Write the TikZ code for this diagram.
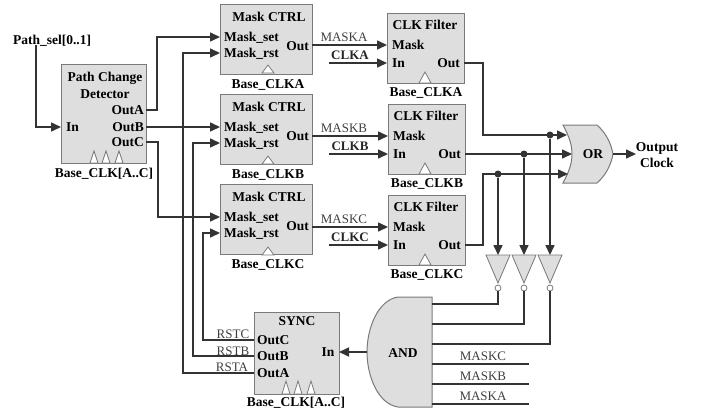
\documentclass[tikz,border=0pt]{standalone}
\usepackage{fontspec}
\setmainfont{Liberation Serif}
\usetikzlibrary{arrows.meta}
\definecolor{boxfill}{HTML}{DEDEDE}
\definecolor{boxline}{HTML}{7A7A7A}
\definecolor{wirecol}{HTML}{333333}
\tikzset{
  block/.style={draw=boxline,fill=boxfill,line width=1pt,anchor=north west,inner sep=0pt,outer sep=0pt},
  port/.style={font=\fontsize{13.5}{15}\selectfont\bfseries,inner sep=0pt,text height=9pt,text depth=0pt},
  sig/.style={font=\fontsize{13}{15}\selectfont,inner sep=0pt,text=black!75},
  clksig/.style={font=\fontsize{13}{15}\selectfont\bfseries,inner sep=0pt,text=black!85},
  wire/.style={draw=wirecol,line width=1.6pt},
  arrowwire/.style={wire,-{Triangle[length=10pt,width=9pt]}},
  thinwire/.style={draw=wirecol,line width=1.3pt},
  clktri/.style={draw=boxline,fill=white,line width=0.8pt},
  gate/.style={draw=boxline,fill=boxfill,line width=1pt},
  dot/.style={circle,fill=wirecol,inner sep=0pt,minimum size=7pt}
}
\begin{document}
\begin{tikzpicture}[x=1pt,y=-1pt]
  \useasboundingbox (0,0) rectangle (705,413);

  % Path change detector
  \node[block,minimum width=85pt,minimum height=99pt] (det) at (61,64) {};
  \node[port] (detname) at (105,77) {Path Change};
  \node[port] (detname2) at (105,94) {Detector};
  \node[port,anchor=west] (detin) at (66,127) {In};
  \node[port,anchor=east] (detA) at (144,110) {OutA};
  \node[port,anchor=east] (detB) at (144,127) {OutB};
  \node[port,anchor=east] (detC) at (144,142) {OutC};
  \node[port] (detclk) at (104,173) {Base\_CLK[A..C]};
  \node[port] (pathsel) at (52,40) {Path\_sel[0..1]};

  % Mask CTRL
  \foreach \n/\y in {A/4,B/94,C/184}{
    \node[block,minimum width=92pt,minimum height=70pt] (ctrl\n) at (220,\y) {};
    \node[port] (ctrl\n name) at (269,\y+13) {Mask CTRL};
    \node[port,anchor=west] (set\n) at (224,\y+33) {Mask\_set};
    \node[port,anchor=west] (rst\n) at (224,\y+49) {Mask\_rst};
    \node[port,anchor=east] (ctrl\n out) at (309,\y+42) {Out};
    \node[port] (ctrl\n clk) at (268,\y+80) {Base\_CLK\n};
  }

  % CLK Filter
  \foreach \n/\x/\y in {A/387/13,B/388/104,C/388/195}{
    \node[block,minimum width=77pt,minimum height=70pt] (filt\n) at (\x,\y) {};
    \node[port] (filt\n name) at (\x+38,\y+12) {CLK Filter};
    \node[port,anchor=west] (filt\n mask) at (\x+5,\y+32) {Mask};
    \node[port,anchor=west] (filt\n in) at (\x+5,\y+50) {In};
    \node[port,anchor=east] (filt\n out) at (\x+73,\y+50) {Out};
    \node[port] (filt\n clk) at (\x+39,\y+79) {Base\_CLK\n};
  }

  % SYNC
  \node[block,minimum width=85pt,minimum height=82pt] (sync) at (254,312) {};
  \node[port] (syncname) at (297,321) {SYNC};
  \node[port,anchor=west] (syncC) at (257,340) {OutC};
  \node[port,anchor=west] (syncB) at (257,356) {OutB};
  \node[port,anchor=west] (syncA) at (257,373) {OutA};
  \node[port] (syncin) at (328,352) {In};
  \node[port] (syncclk) at (296,402) {Base\_CLK[A..C]};

  % Triangulos de reloj
  \foreach \x/\y/\w/\h in {94/163/4/12,106/163/4/12,119/163/4/12,
                           286/394/4/13,298/394/4/13,311/394/4/13,
                           268/73/6/8,268/164/6/8,268/255/6/8,
                           425/83/6/11,425/174/6/11,425/265/6/11}
    \draw[clktri] (\x-\w,\y) -- (\x,\y-\h) -- (\x+\w,\y) -- cycle;

  % OR
  \draw[gate] (563,125) -- (597,125) .. controls (606,133) and (611,143) .. (613,154)
    .. controls (611,165) and (606,175) .. (597,183) -- (563,183)
    .. controls (570,170) and (572,162) .. (572,154)
    .. controls (572,146) and (570,138) .. (563,125) -- cycle;
  \node[port] (or) at (593,154) {OR};
  \coordinate (orA) at (567,135);
  \coordinate (orB) at (572,154);
  \coordinate (orC) at (568,174);
  \coordinate (orout) at (613,154);
  \node[port] (clkout) at (657,147) {Output};
  \node[port] (clkout2) at (657,163) {Clock};
  \coordinate (outend) at (636,154);

  % AND
  \draw[gate] (432,297) -- (398,297) .. controls (378,300) and (367,328) .. (367,352)
    .. controls (367,376) and (378,404) .. (398,407) -- (432,407) -- cycle;
  \node[port] (and) at (403,353) {AND};
  \coordinate (andout) at (367,352);

  % Inversores
  \foreach \n/\x in {C/498,B/524,A/550}{
    \draw[gate,line width=0.8pt] (\x-12,255) -- (\x+12,255) -- (\x,283) -- cycle;
    \node[draw=boxline,fill=white,circle,line width=0.8pt,inner sep=0pt,minimum size=6pt] (bub\n) at (\x,288) {};
    \coordinate (inv\n) at (\x,255);
  }

  % Entrada y salidas del detector
  \draw[arrowwire] (pathsel.south -| 36,0) |- (det.west |- detin);
  \draw[arrowwire] (detA -| det.east) -- ++(11,0) |- (setA -| ctrlA.west);
  \draw[arrowwire] (detB -| det.east) -- (setB -| ctrlB.west);
  \draw[arrowwire] (detC -| det.east) -- ++(12,0) |- (setC -| ctrlC.west);

  % Resets desde SYNC
  \draw[arrowwire] (syncA -| sync.west) -- ++(-71,0) |- (rstA -| ctrlA.west);
  \draw[arrowwire] (syncB -| sync.west) -- ++(-61,0) |- (rstB -| ctrlB.west);
  \draw[arrowwire] (syncC -| sync.west) -- ++(-51,0) |- (rstC -| ctrlC.west);
  \node[sig] (rstClab) at (233,334) {RSTC};
  \node[sig] (rstBlab) at (233,351) {RSTB};
  \node[sig] (rstAlab) at (232,367) {RSTA};

  % Mask y CLK hacia los filtros
  \foreach \n in {A,B,C}{
    \draw[arrowwire] (filt\n mask -| ctrl\n.east) -- (filt\n mask -| filt\n.west);
    \node[sig] (mask\n lab) at (344,0 |- filt\n mask) [yshift=8pt] {MASK\n};
    \node[clksig] (clk\n lab) at (350,0 |- filt\n in) [yshift=8pt] {CLK\n};
    \coordinate (clk\n start) at (329,0 |- filt\n in);
    \draw[arrowwire] (clk\n start) -- (filt\n in -| filt\n.west);
  }

  % Salidas de los filtros hacia OR
  \node[dot] (dotA) at (550,135) {};
  \node[dot] (dotB) at (524,154) {};
  \node[dot] (dotC) at (498,174) {};
  \draw[arrowwire] (filtAout -| filtA.east) -- ++(19,0) |- (orA);
  \draw[arrowwire] (filtBout -| filtB.east) -- (orB);
  \draw[arrowwire] (filtCout -| filtC.east) -- ++(18,0) |- (orC);
  \draw[arrowwire] (orout) -- (outend);

  % Hacia los inversores y AND
  \foreach \n/\y in {C/304,B/324,A/344}{
    \draw[arrowwire] (dot\n) -- (inv\n);
    \draw[wire] (bub\n) |- (432,\y);
  }
  \draw[arrowwire] (andout) -- (sync.east |- andout);

  % Entradas MASK de AND
  \foreach \n/\y in {C/364,B/384,A/404}{
    \coordinate (end\n) at (529,\y);
    \draw[thinwire] (432,\y) -- (end\n);
    \node[sig] (and\n lab) at (483,\y-8) {MASK\n};
  }
\end{tikzpicture}
\end{document}
